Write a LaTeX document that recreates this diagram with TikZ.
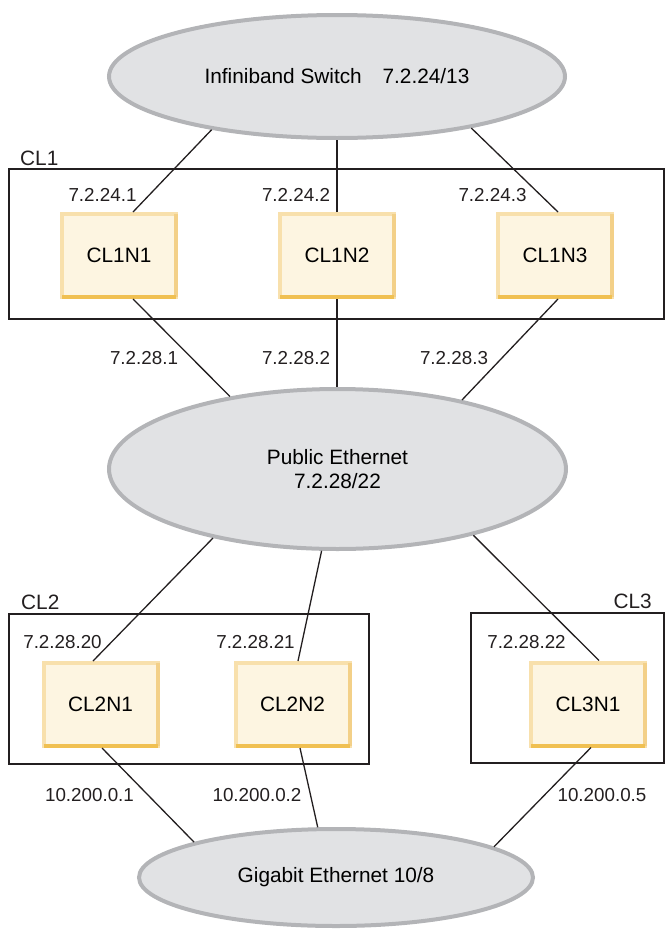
\documentclass[tikz,border=0pt]{standalone}
\usepackage{fontspec}
\setmainfont{Liberation Sans}
\usetikzlibrary{shapes.geometric}

\definecolor{netfill}{HTML}{E1E2E4}
\definecolor{netedge}{HTML}{B3B4B7}
\definecolor{hostfill}{HTML}{FDF5E1}
\definecolor{hostlight}{HTML}{F8E0AC}
\definecolor{hostmid}{HTML}{F3D088}
\definecolor{hostdark}{HTML}{F0C052}
\definecolor{wirecol}{HTML}{231F20}

\tikzset{
  net/.style={ellipse, draw=netedge, fill=netfill, line width=4pt, inner sep=0pt, align=center, font=\fontsize{20.8}{24}\selectfont},
  host/.style={rectangle, draw=hostlight, fill=hostfill, line width=4pt, minimum width=114pt, minimum height=83pt, font=\fontsize{20.8}{24}\selectfont},
  cluster/.style={rectangle, draw=wirecol, line width=1.3pt, inner sep=0pt},
  addr/.style={font=\fontsize{18.8}{22}\selectfont, inner sep=0pt, text=wirecol},
  clname/.style={font=\fontsize{20.8}{24}\selectfont, inner sep=0pt, text=wirecol},
  link/.style={draw=wirecol, line width=1.3pt}
}

\begin{document}
\begin{tikzpicture}[x=1pt,y=-1pt]
\useasboundingbox (0,0) rectangle (666,929);

\node[cluster, minimum width=655pt, minimum height=150pt] (cl1) at (336.5,244) {};
\node[cluster, minimum width=360pt, minimum height=150pt] (cl2) at (189,689) {};
\node[cluster, minimum width=193pt, minimum height=150pt] (cl3) at (567.5,688) {};

\node[clname, anchor=west] (cl1name) at (20,158) {CL1};
\node[clname, anchor=west] (cl2name) at (21,602) {CL2};
\node[clname, anchor=east] (cl3name) at (652,601) {CL3};

\node[net, minimum width=456pt, minimum height=123pt] (infini) at (337,76.5) {Infiniband Switch\quad 7.2.24/13};
\node[net, minimum width=457pt, minimum height=160pt] (public) at (337.5,469) {Public Ethernet\\7.2.28/22};
\node[net, minimum width=394pt, minimum height=97pt] (gige) at (336,877.5) {Gigabit Ethernet 10/8};

\node[host] (c1n1) at (119,255.5) {CL1N1};
\node[host] (c1n2) at (337,255.5) {CL1N2};
\node[host] (c1n3) at (555,255.5) {CL1N3};
\node[host] (c2n1) at (100.5,704.5) {CL2N1};
\node[host] (c2n2) at (292.5,704.5) {CL2N2};
\node[host] (c3n1) at (588,704) {CL3N1};

\foreach \h in {c1n1,c1n2,c1n3,c2n1,c2n2,c3n1} {
  \draw[hostmid, line width=4pt] ([shift={(-2pt,-2pt)}]\h.north east) -- ([shift={(-2pt,2pt)}]\h.south east);
  \draw[hostdark, line width=4pt] ([shift={(2pt,2pt)}]\h.south west) -- ([shift={(-2pt,2pt)}]\h.south east);
}

\node[addr] (a1) at (102.5,195) {7.2.24.1};
\node[addr] (a2) at (296,195) {7.2.24.2};
\node[addr] (a3) at (492.5,195) {7.2.24.3};
\node[addr] (b1) at (144,358) {7.2.28.1};
\node[addr] (b2) at (296,358) {7.2.28.2};
\node[addr] (b3) at (454,358) {7.2.28.3};
\node[addr] (b20) at (62.5,642) {7.2.28.20};
\node[addr] (b21) at (255.5,642) {7.2.28.21};
\node[addr] (b22) at (526.5,642) {7.2.28.22};
\node[addr] (g1) at (89.5,795) {10.200.0.1};
\node[addr] (g2) at (257,795) {10.200.0.2};
\node[addr] (g5) at (602,795) {10.200.0.5};

\draw[link] (infini.203.8) -- ([xshift=14pt]c1n1.north);
\draw[link] (c1n2.north) -- (c1n2.north |- infini.south);
\draw[link] (infini.339.4) -- ([xshift=3pt]c1n3.north);

\draw[link] ([xshift=14pt]c1n1.south) -- (public.146.6);
\draw[link] (c1n2.south) -- (c1n2.south |- public.north);
\draw[link] ([xshift=3pt]c1n3.south) -- (public.29);

\draw[link] (public.209.5) -- ([xshift=-7.5pt]c2n1.north);
\draw[link] (public.259.3) -- ([xshift=5.5pt]c2n2.north);
\draw[link] (public.334.4) -- ([xshift=11pt]c3n1.north);

\draw[link] ([xshift=1.5pt]c2n1.south) -- (gige.166.2);
\draw[link] ([xshift=7.5pt]c2n2.south) -- (gige.110.7);
\draw[link] ([xshift=3pt]c3n1.south) -- (gige.11.4);
\end{tikzpicture}
\end{document}
